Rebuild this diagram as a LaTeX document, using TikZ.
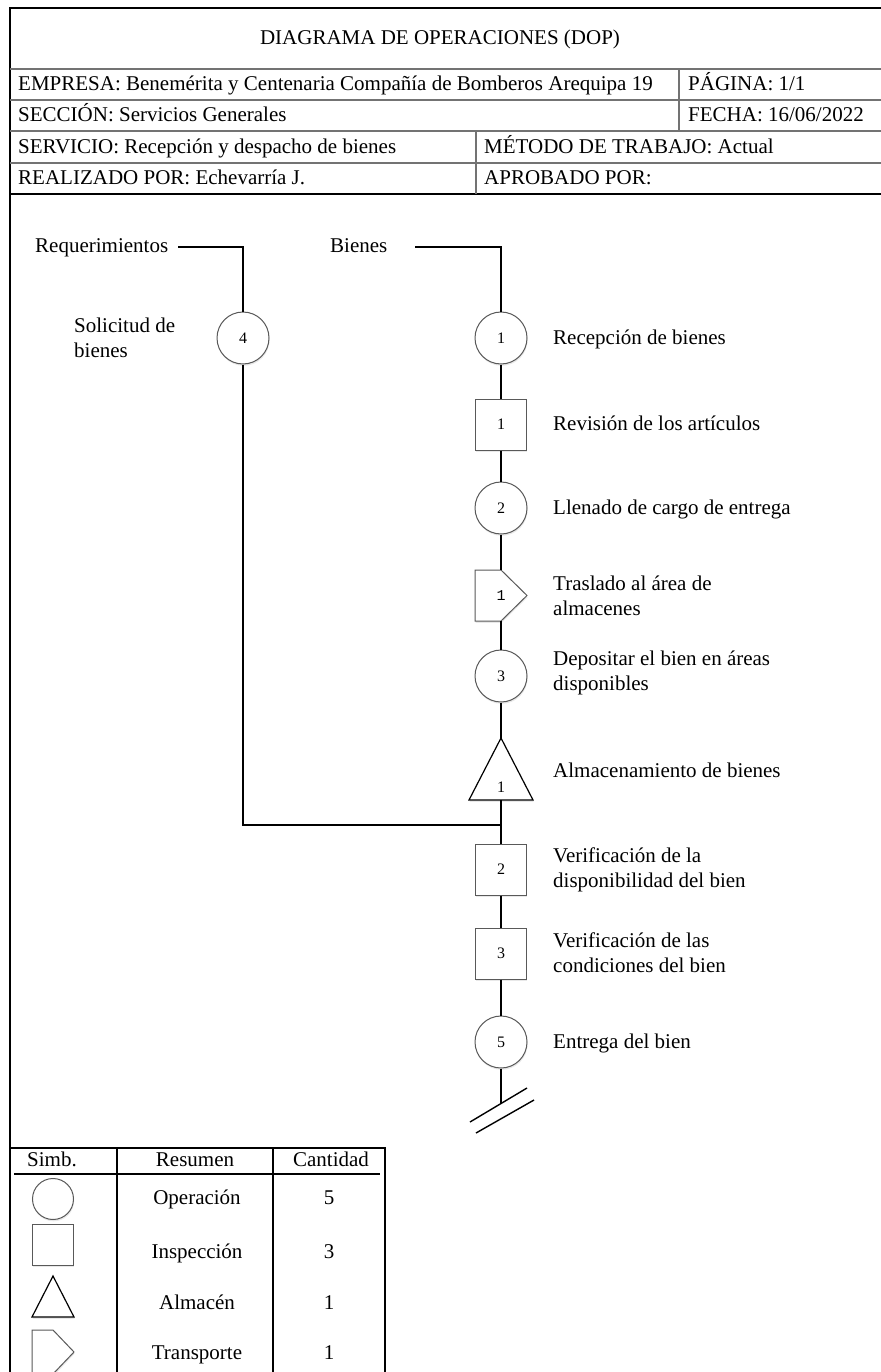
\documentclass[tikz,border=0pt]{standalone}
\usepackage{fontspec}
\setmainfont{Liberation Serif}
\newfontfamily\numfont{Liberation Mono}
\usetikzlibrary{shadows}

\begin{document}
\begin{tikzpicture}[x=1pt,y=-1pt,
  frame/.style={line width=1.6pt,black},
  rule/.style={line width=1.2pt,black!55},
  link/.style={line width=1.4pt,black},
  lbl/.style={font=\fontsize{21}{25}\selectfont,inner sep=0pt,anchor=west,
    text height=14.5pt,text depth=4.5pt},
  lbltwo/.style={font=\fontsize{21}{25}\selectfont,inner sep=0pt,anchor=west,align=left},
  cell/.style={font=\fontsize{21}{25}\selectfont,inner sep=0pt,text height=14.5pt,text depth=4.5pt},
  soft/.style={drop shadow={opacity=0.18,shadow xshift=0.6pt,shadow yshift=-1.8pt}},
  opnode/.style={circle,draw=black!65,line width=1pt,minimum size=52pt,inner sep=0pt,
    fill=white,soft,font=\fontsize{16}{16}\selectfont},
  inspnode/.style={rectangle,draw=black!65,line width=1pt,minimum size=51pt,inner sep=0pt,
    fill=white,soft,font=\fontsize{16}{16}\selectfont},
  ghost/.style={rectangle,inner sep=0pt,outer sep=0pt},
  shapeline/.style={draw=black!65,line width=1pt,fill=white,soft},
  num/.style={font=\fontsize{16}{16}\selectfont,inner sep=0pt}
]
\useasboundingbox (0,0) rectangle (880,1372);

% ---------- header block ----------
\draw[frame] (10,1380) -- (10,8) -- (890,8);
\draw[rule] (10,69) -- (890,69);
\draw[rule] (10,100) -- (890,100);
\draw[rule] (10,131) -- (890,131);
\draw[rule] (10,163) -- (890,163);
\draw[frame] (10,194) -- (890,194);
\draw[rule] (679,69) -- (679,131);
\draw[rule] (476,131) -- (476,194);

\node[cell] (title) at (440,40) {DIAGRAMA DE OPERACIONES (DOP)};
\node[lbl] (emp) at (18,86) {EMPRESA: Benemérita y Centenaria Compañía de Bomberos Arequipa 19};
\node[lbl] (pag) at (688,86) {PÁGINA: 1/1};
\node[lbl] (sec) at (18,117) {SECCIÓN: Servicios Generales};
\node[lbl] (fec) at (688,117) {FECHA: 16/06/2022};
\node[lbl] (ser) at (18,148.5) {SERVICIO: Recepción y despacho de bienes};
\node[lbl] (met) at (484,148.5) {MÉTODO DE TRABAJO: Actual};
\node[lbl] (rea) at (18,180) {REALIZADO POR: Echevarría J.};
\node[lbl] (apr) at (484,180) {APROBADO POR:};

% ---------- inputs ----------
\node[lbl] (req) at (35,248) {Requerimientos};
\node[lbl] (bie) at (330,248) {Bienes};
\coordinate (reqin) at (178,247);
\coordinate (biein) at (415,247);

% ---------- left branch ----------
\node[opnode] (o4) at (243,338) {4};
\node[lbltwo] (o4t) at (74,338) {Solicitud de\\bienes};

% ---------- main column ----------
\node[opnode] (o1) at (501,338) {1};
\node[inspnode] (i1) at (501,424.5) {1};
\node[opnode] (o2) at (501,508) {2};
\node[ghost,minimum width=52pt,minimum height=51pt] (t1) at (501,595.5) {};
\node[opnode] (o3) at (501,676) {3};
\node[ghost,minimum width=64pt,minimum height=62pt] (a1) at (501,769) {};
\coordinate (join) at (501,825);
\node[inspnode] (i2) at (501,869.5) {2};
\node[inspnode] (i3) at (501,953.5) {3};
\node[opnode] (o5) at (501,1042) {5};
\coordinate (tail) at (501,1103.5);
\coordinate (s1a) at (470,1122);
\coordinate (s1b) at (527,1088);
\coordinate (s2a) at (476,1133);
\coordinate (s2b) at (534,1100);

% transport and storage symbols
\path[shapeline] (t1.north west) -- (t1.north) -- (t1.east) -- (t1.south) -- (t1.south west) -- cycle;
\node[num,font=\fontsize{15}{15}\numfont] (t1n) at (t1.center) {1};
\path[shapeline,draw=black,line width=1.2pt] (a1.north) -- (a1.south east) -- (a1.south west) -- cycle;
\node[num] (a1n) at (501,787) {1};

% step labels
\node[lbl] at (553,339) {Recepción de bienes};
\node[lbl] at (553,425.5) {Revisión de los artículos};
\node[lbl] at (553,509) {Llenado de cargo de entrega};
\node[lbltwo] at (553,595.5) {Traslado al área de\\almacenes};
\node[lbltwo] at (553,672.5) {Depositar el bien en áreas\\disponibles};
\node[lbl] at (553,772) {Almacenamiento de bienes};
\node[lbltwo] at (553,869.5) {Verificación de la\\disponibilidad del bien};
\node[lbltwo] at (553,952.5) {Verificación de las\\condiciones del bien};
\node[lbl] at (553,1043) {Entrega del bien};

% ---------- connectors ----------
\draw[link] (reqin) -- (reqin -| o4) -- (o4.north);
\draw[link] (o4.south) -- (o4.south |- join) -- (join);
\draw[link] (biein) -- (biein -| o1) -- (o1.north);
\draw[link] (o1.south) -- (i1.north);
\draw[link] (i1.south) -- (o2.north);
\draw[link] (o2.south) -- (t1.north);
\draw[link] (t1.south) -- (o3.north);
\draw[link] (o3.south) -- (a1.north);
\draw[link] (a1.south) -- (i2.north);
\draw[link] (i2.south) -- (i3.north);
\draw[link] (i3.south) -- (o5.north);
\draw[link] (o5.south) -- (tail);
\draw[link] (s1a) -- (s1b);
\draw[link] (s2a) -- (s2b);

% ---------- summary table ----------
\draw[frame] (10,1148) -- (385,1148) -- (385,1380);
\draw[frame] (14,1174) -- (380,1174);
\draw[frame] (117,1148) -- (117,1380);
\draw[frame] (273,1148) -- (273,1380);

\node[cell] (hs) at (52,1161) {Simb.};
\node[cell] (hr) at (195,1161) {Resumen};
\node[cell] (hc) at (331,1161) {Cantidad};

\node[opnode,minimum size=41pt] (lo) at (53,1199) {};
\node[inspnode,minimum size=41pt] (li) at (53,1245) {};
\node[ghost,minimum width=42pt,minimum height=41pt] (la) at (53,1296.5) {};
\path[shapeline,draw=black,line width=1.2pt] (la.north) -- (la.south east) -- (la.south west) -- cycle;
\node[ghost,minimum width=42pt,minimum height=44pt] (lt) at (53,1352) {};
\path[shapeline] (lt.north west) -- (lt.north) -- (lt.east) -- (lt.south) -- (lt.south west) -- cycle;

\node[cell] (ro) at (197,1199) {Operación};
\node[cell] (ri) at (197,1253) {Inspección};
\node[cell] (ra) at (197,1304) {Almacén};
\node[cell] (rt) at (197,1354) {Transporte};
\node[cell] (co) at (329,1199) {5};
\node[cell] (ci) at (329,1253) {3};
\node[cell] (ca) at (329,1304) {1};
\node[cell] (ct) at (329,1354) {1};
\end{tikzpicture}
\end{document}
